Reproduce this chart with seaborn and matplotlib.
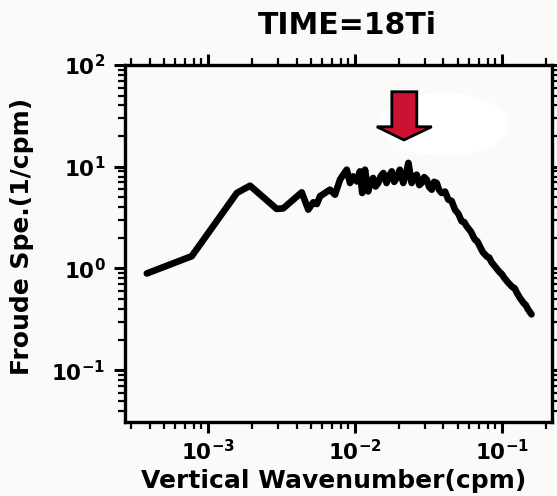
import numpy as np
import pandas as pd
import matplotlib
matplotlib.use("Agg")
import matplotlib.pyplot as plt
import seaborn as sns
from matplotlib.patches import Polygon, Ellipse
from matplotlib.ticker import LogLocator, FixedLocator, FixedFormatter, NullFormatter

# ---- data ----
wavenumber = [3.83e-4, 7.74e-4, 1.21e-3, 1.57e-3, 1.93e-3, 2.93e-3, 3.25e-3, 4.34e-3,
              4.81e-3, 5.20e-3, 5.50e-3, 5.78e-3, 6.25e-3, 6.76e-3, 7.31e-3, 7.91e-3,
              8.32e-3, 8.79e-3, 9.25e-3, 9.72e-3, 1.028e-2, 1.08e-2, 1.12e-2, 1.17e-2,
              1.23e-2, 1.28e-2, 1.33e-2, 1.38e-2, 1.44e-2, 1.50e-2, 1.56e-2, 1.64e-2,
              1.71e-2, 1.78e-2, 1.85e-2, 1.92e-2, 2.02e-2, 2.13e-2, 2.22e-2, 2.31e-2,
              2.43e-2, 2.53e-2, 2.63e-2, 2.74e-2, 2.84e-2, 2.96e-2, 3.08e-2, 3.20e-2,
              3.33e-2, 3.46e-2, 3.60e-2, 3.74e-2, 3.89e-2, 4.10e-2, 4.32e-2, 4.55e-2,
              4.79e-2, 5.05e-2, 5.32e-2, 5.55e-2, 5.75e-2, 6.15e-2, 6.55e-2, 6.80e-2,
              7.00e-2, 7.43e-2, 7.95e-2, 8.20e-2, 8.51e-2, 9.10e-2, 9.68e-2, 0.100,
              0.103, 0.110, 0.118, 0.122, 0.126, 0.133, 0.141, 0.145, 0.150, 0.159]
froude_spec = [0.893, 1.32, 3.26, 5.52, 6.51, 3.85, 3.90, 5.60,
               3.79, 4.47, 4.30, 5.12, 5.52, 5.95, 5.31, 7.46,
               8.35, 9.35, 6.92, 8.04, 7.17, 9.00, 5.52, 9.35,
               5.72, 7.20, 7.75, 6.40, 6.92, 8.10, 8.67, 6.92,
               8.20, 9.00, 7.10, 7.75, 9.35, 6.92, 8.40, 10.9,
               6.92, 7.90, 8.35, 6.60, 6.92, 7.90, 7.46, 6.30,
               5.95, 7.10, 6.92, 5.90, 5.52, 5.70, 4.75, 4.60,
               3.79, 3.45, 2.91, 2.85, 2.60, 2.30, 1.92, 1.85,
               1.70, 1.44, 1.30, 1.28, 1.15, 1.02, 0.914, 0.88,
               0.82, 0.729, 0.655, 0.64, 0.582, 0.51, 0.454, 0.44,
               0.40, 0.354]

xtick_vals = [1e-3, 1e-2, 1e-1]
xtick_labels = [r"$\mathbf{10^{-3}}$", r"$\mathbf{10^{-2}}$", r"$\mathbf{10^{-1}}$"]
ytick_vals = [1e-1, 1e0, 1e1, 1e2]
ytick_labels = [r"$\mathbf{10^{-1}}$", r"$\mathbf{10^{0}}$", r"$\mathbf{10^{1}}$", r"$\mathbf{10^{2}}$"]

title_text = "TIME=18Ti"
xlabel_text = "Vertical Wavenumber(cpm)"
ylabel_text = "Froude Spe.(1/cpm)"

df = pd.DataFrame({"k": wavenumber, "spec": froude_spec})

# ---- style ----
sns.set_style("ticks")
plt.rcParams["font.family"] = ["DejaVu Sans"]
plt.rcParams["font.weight"] = "bold"
plt.rcParams["mathtext.fontset"] = "dejavusans"
plt.rcParams["text.color"] = "black"
plt.rcParams["xtick.color"] = "black"
plt.rcParams["ytick.color"] = "black"
plt.rcParams["xtick.labelcolor"] = "black"
plt.rcParams["ytick.labelcolor"] = "black"

bg = "#fafaf9"
fig = plt.figure(figsize=(5.57, 4.96), dpi=100, facecolor=bg)
ax = fig.add_axes([0.2244, 0.149, 0.767, 0.720])
ax.set_facecolor(bg)

sns.lineplot(data=df, x="k", y="spec", ax=ax, color="black", linewidth=4.8,
             sort=False, estimator=None, solid_joinstyle="round", solid_capstyle="round")

ax.set_xscale("log")
ax.set_yscale("log")
ax.set_xlim(2.72e-4, 0.22)
ax.set_ylim(10 ** -1.51, 100)

ax.xaxis.set_major_locator(FixedLocator(xtick_vals))
ax.xaxis.set_major_formatter(FixedFormatter(xtick_labels))
ax.yaxis.set_major_locator(FixedLocator(ytick_vals))
ax.yaxis.set_major_formatter(FixedFormatter(ytick_labels))
ax.xaxis.set_minor_locator(LogLocator(base=10, subs=np.arange(2, 10), numticks=20))
ax.yaxis.set_minor_locator(LogLocator(base=10, subs=np.arange(2, 10), numticks=20))
ax.xaxis.set_minor_formatter(NullFormatter())
ax.yaxis.set_minor_formatter(NullFormatter())

ax.tick_params(which="both", direction="out", top=True, right=True, color="black",
               labelcolor="black")
ax.tick_params(which="major", length=8, width=2.2, labelsize=15.5)
ax.tick_params(which="minor", length=5, width=1.6)
ax.tick_params(axis="x", which="major", pad=4)
ax.tick_params(axis="y", which="major", pad=6)
for s in ax.spines.values():
    s.set_visible(True)
    s.set_linewidth(2.4)
    s.set_color("black")

ax.set_xlabel("")
ax.set_ylabel("")
fig.text(347 / 557, 1 - 25 / 496, title_text, ha="center", va="center",
         fontsize=21.5, fontweight="bold", color="black")
fig.text(334 / 557, 1 - 481 / 496, xlabel_text, ha="center", va="center",
         fontsize=18, fontweight="bold", color="black")
fig.text(22 / 557, 1 - 236 / 496, ylabel_text, ha="center", va="center",
         rotation=90, fontsize=18, fontweight="bold", color="black")

# ---- annotation: white ellipse and red arrow ----
ell = Ellipse((0.747, 0.834), 0.300, 0.176, transform=ax.transAxes,
              facecolor="white", edgecolor="none", zorder=3)
ax.add_patch(ell)
arrow_pts = [(0.6246, 0.925), (0.683, 0.925), (0.683, 0.827), (0.718, 0.827),
             (0.653, 0.790), (0.5895, 0.827), (0.6246, 0.827)]
arrow = Polygon(arrow_pts, closed=True, transform=ax.transAxes,
                facecolor="#cc1133", edgecolor="black", linewidth=2, zorder=4)
ax.add_patch(arrow)

fig.savefig("out.png", dpi=100, facecolor=bg)
